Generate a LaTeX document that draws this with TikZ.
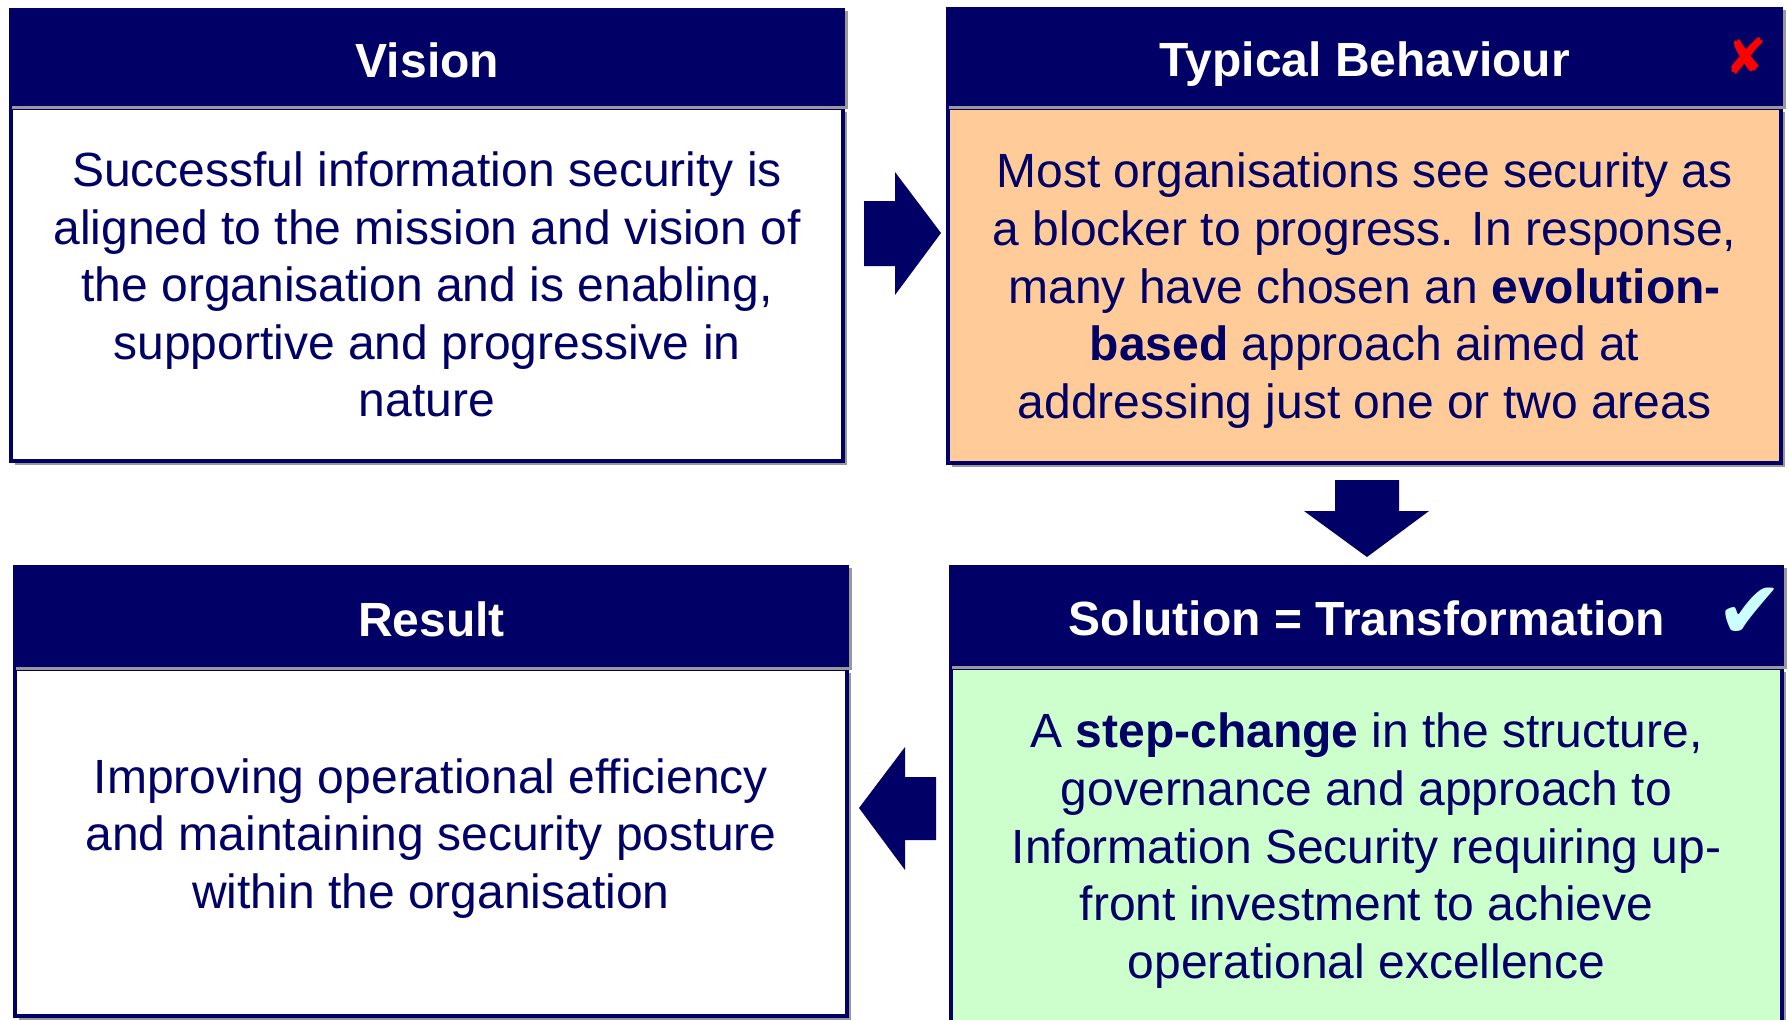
\documentclass[tikz,border=0pt]{standalone}
\usepackage{fontspec}
\setmainfont{Liberation Sans}
\newfontfamily\markfont{DejaVu Sans}
\usetikzlibrary{shadows}

\definecolor{navy}{HTML}{000066}
\definecolor{peach}{HTML}{FFCC99}
\definecolor{mint}{HTML}{CCFFCC}
\definecolor{paleblue}{HTML}{CCFFFF}
\definecolor{shadowgrey}{HTML}{999999}

\tikzset{
  headshadow/.style = {drop shadow = {shadow xshift = 1.5pt, shadow yshift = -1.5pt, fill = shadowgrey, opacity = 1}},
  bodyshadow/.style = {drop shadow = {shadow xshift = 2pt, shadow yshift = -2pt, fill = shadowgrey, opacity = 1}},
  headbox/.style = {rectangle, fill = navy, text = white, anchor = north west, inner sep = 0pt,
    font = \fontsize{24}{28}\selectfont\bfseries, text height = 20pt, text depth = 0pt, headshadow},
  bodybox/.style = {rectangle, draw = navy, line width = 2pt, text = navy, anchor = north west, inner sep = 0pt,
    align = center, font = \fontsize{24}{28.8}\selectfont, bodyshadow},
  blockarrow/.style = {fill = navy},
}

\begin{document}
\begin{tikzpicture}[x = 0.5pt, y = -0.5pt]
    \clip (0, 0) rectangle (1789, 1019);
    \fill[white] (0, 0) rectangle (1789, 1019);

    % bodies first, so that the shadow of each heading lies on them
    \node[bodybox, fill = white, minimum width = 416pt, minimum height = 176.5pt] (visionbody) at (9, 106)
      {Successful information security is\\ aligned to the mission and vision of\\ the organisation and is enabling,\\ supportive and progressive in\\ nature};
    \node[bodybox, fill = peach, minimum width = 416.5pt, minimum height = 177.5pt] (typicalbody) at (946, 106)
      {\rule{0pt}{22.5pt}Most organisations see security as\\ a blocker to progress. In response,\\ many have chosen an \textbf{evolution-}\\ \textbf{based} approach aimed at\\ addressing just one or two areas};
    \node[bodybox, fill = mint, minimum width = 415.5pt, minimum height = 177.5pt] (solutionbody) at (949, 666)
      {\rule{0pt}{22.5pt}A \textbf{step-change} in the structure,\\ governance and approach to\\ Information Security requiring up-\\ front investment to achieve\\ operational excellence};
    \node[bodybox, fill = white, minimum width = 416pt, minimum height = 173.5pt] (resultbody) at (13, 667)
      {Improving operational efficiency\\ and maintaining security posture\\ within the organisation\rule[-9pt]{0pt}{9pt}};

    % headings
    \node[headbox, minimum width = 418pt, minimum height = 49pt] (visionhead) at (9, 8) {Vision};
    \node[headbox, minimum width = 418.5pt, minimum height = 49.5pt] (typicalhead) at (946, 7) {Typical Behaviour};
    \node[headbox, minimum width = 417.5pt, minimum height = 50.5pt] (solutionhead) at (949, 565) {Solution = Transformation};
    \node[headbox, minimum width = 418pt, minimum height = 51pt] (resulthead) at (13, 565) {Result};

    \node[text = red, font = \markfont\fontsize{25}{25}\selectfont] (crossmark) at (1746, 56) {✘};
    \node[text = paleblue, font = \markfont\fontsize{40}{40}\selectfont] (tickmark) at (1750, 613) {✔};

    % block arrows
    \fill[blockarrow] (864, 201) -- (895, 201) -- (895, 172) -- (941, 233) -- (895, 295) -- (895, 266) -- (864, 266) -- cycle;
    \fill[blockarrow] (1335, 480) -- (1399, 480) -- (1399, 511) -- (1429, 511) -- (1367, 557) -- (1304, 511) -- (1335, 511) -- cycle;
    \fill[blockarrow] (936, 777) -- (905, 777) -- (905, 747) -- (859, 808) -- (905, 870) -- (905, 840) -- (936, 840) -- cycle;
\end{tikzpicture}
\end{document}
